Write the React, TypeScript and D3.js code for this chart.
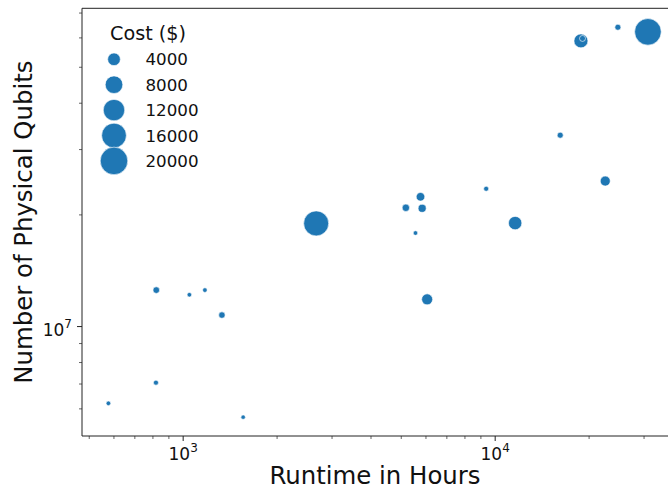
import React from "react";
import * as d3 from "d3";

// Runtime (hours), physical qubits and cost ($) for each estimate
const runtimeHours = [576, 818, 820, 1047, 1174, 1331, 1557, 2669, 5763, 5173, 5834, 5554, 9357, 11590, 6053, 16160, 22530, 18830, 19050, 24730, 30870];
const physicalQubits = [6.21e6, 7.06e6, 1.254e7, 1.218e7, 1.254e7, 1.074e7, 5.7e6, 1.897e7, 2.238e7, 2.09e7, 2.083e7, 1.787e7, 2.352e7, 1.901e7, 1.184e7, 3.28e7, 2.467e7, 5.89e7, 5.98e7, 6.41e7, 6.23e7];
const costDollars = [300, 400, 900, 300, 300, 850, 250, 16400, 1700, 1200, 1450, 300, 400, 4500, 2950, 700, 2400, 4950, 700, 700, 18600];

const legendCosts = [4000, 8000, 12000, 16000, 20000];
const xMajorTicks = [1000, 10000];
const xMinorTicks = [500, 600, 700, 800, 900, 2000, 3000, 4000, 5000, 6000, 7000, 8000, 9000, 20000, 30000];
const yMajorTicks = [1e7];
const yMinorTicks = [6e6, 7e6, 8e6, 9e6, 2e7, 3e7, 4e7, 5e7, 6e7, 7e7];

const W = 668;
const H = 489;
const plot = { left: 82, right: 668, top: 8.3, bottom: 436 };
const COLOR = "#1f77b4";
const FONT = "DejaVu Sans, Liberation Sans, sans-serif";
const INK = "#222";

export default function App() {
  const x = d3.scaleLog().domain([474, 35800]).range([plot.left, plot.right]);
  const y = d3.scaleLog().domain([5.07e6, 7.21e7]).range([plot.bottom, plot.top]);
  const area = d3.scaleLinear().domain([0, 20000]).range([2.5, 190]);
  const r = (c: number) => Math.sqrt(area(c));

  const exp = (v: number) => Math.round(Math.log10(v));

  return (
    <svg width={W} height={H} style={{ position: "absolute", left: 0, top: 0 }} fontFamily={FONT}>
      <rect width={W} height={H} fill="white" />

      {/* points */}
      <g>
        {runtimeHours.map((h, i) => (
          <circle
            key={i}
            cx={x(h)}
            cy={y(physicalQubits[i])}
            r={r(costDollars[i])}
            fill={COLOR}
            stroke="white"
            strokeWidth={0.6}
          />
        ))}
      </g>

      {/* spines */}
      <g stroke={INK} strokeWidth={1} fill="none">
        <line x1={plot.left} x2={plot.left} y1={plot.top} y2={plot.bottom} />
        <line x1={plot.left} x2={plot.right} y1={plot.bottom} y2={plot.bottom} />
        <line x1={plot.left} x2={plot.right} y1={plot.top} y2={plot.top} />
      </g>

      {/* x ticks */}
      <g stroke={INK}>
        {xMinorTicks.map((t) => (
          <line key={t} x1={x(t)} x2={x(t)} y1={plot.bottom} y2={plot.bottom + 3} strokeWidth={0.7} />
        ))}
        {xMajorTicks.map((t) => (
          <line key={t} x1={x(t)} x2={x(t)} y1={plot.bottom} y2={plot.bottom + 5} strokeWidth={1} />
        ))}
      </g>
      <g fill="#111">
        {xMajorTicks.map((t) => (
          <text key={t} x={x(t)} y={460} textAnchor="middle" fontSize={17}>
            10
            <tspan fontSize={12} dy={-8}>{exp(t)}</tspan>
          </text>
        ))}
      </g>

      {/* y ticks */}
      <g stroke={INK}>
        {yMinorTicks.map((t) => (
          <line key={t} x1={plot.left - 3} x2={plot.left} y1={y(t)} y2={y(t)} strokeWidth={0.7} />
        ))}
        {yMajorTicks.map((t) => (
          <line key={t} x1={plot.left - 5} x2={plot.left} y1={y(t)} y2={y(t)} strokeWidth={1} />
        ))}
      </g>
      <g fill="#111">
        {yMajorTicks.map((t) => (
          <text key={t} x={72} y={y(t) + 9} textAnchor="end" fontSize={17}>
            10
            <tspan fontSize={12} dy={-8}>{exp(t)}</tspan>
          </text>
        ))}
      </g>

      {/* axis labels */}
      <text x={(plot.left + plot.right) / 2} y={484} textAnchor="middle" fontSize={24.4} fill="#111">
        Runtime in Hours
      </text>
      <text
        transform={`translate(32, ${(plot.top + plot.bottom) / 2}) rotate(-90)`}
        textAnchor="middle"
        fontSize={24.4}
        fill="#111"
      >
        Number of Physical Qubits
      </text>

      {/* size legend */}
      <g>
        <text x={110} y={39.5} fontSize={19.2} fill="#111">
          Cost ($)
        </text>
        {legendCosts.map((c, i) => {
          const cy = 59.3 + i * 25.4;
          return (
            <g key={c}>
              <circle cx={114} cy={cy} r={r(c)} fill={COLOR} stroke="white" strokeWidth={0.6} />
              <text x={145.5} y={cy + 6} fontSize={16.7} fill="#111">
                {c}
              </text>
            </g>
          );
        })}
      </g>
    </svg>
  );
}
